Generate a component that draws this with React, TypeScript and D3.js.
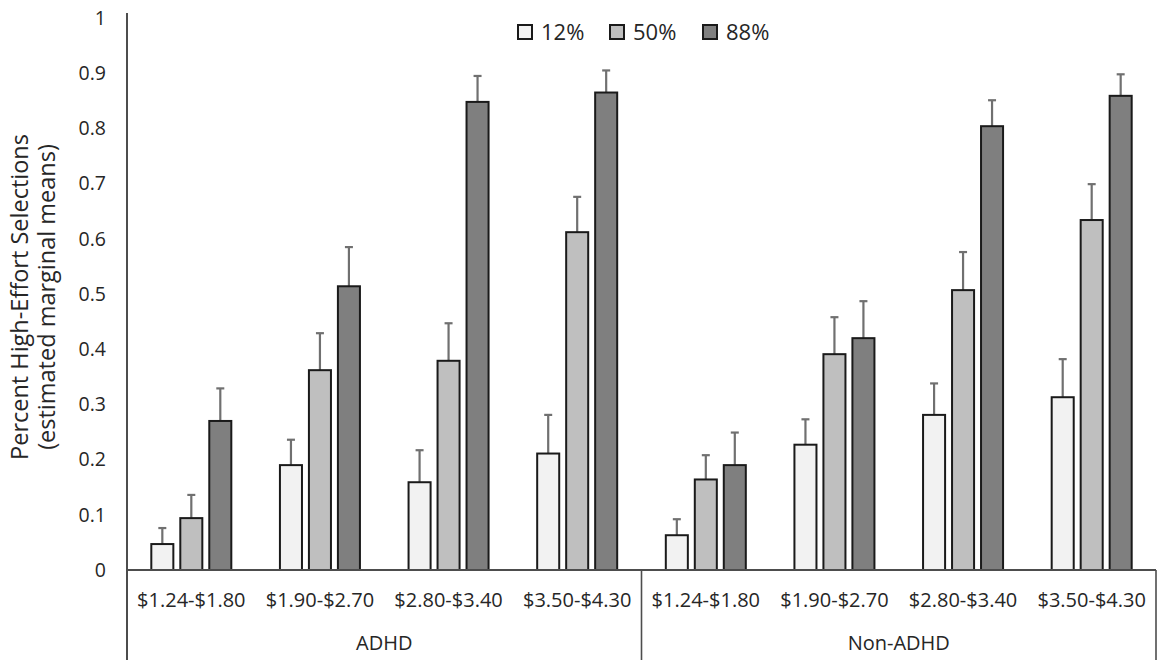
import React, { useEffect, useRef } from "react";
import * as d3 from "d3";

const groups = ["ADHD", "Non-ADHD"];
const priceRanges = ["$1.24-$1.80", "$1.90-$2.70", "$2.80-$3.40", "$3.50-$4.30"];
const seriesNames = ["12%", "50%", "88%"];
const seriesColors = ["#F2F2F2", "#BFBFBF", "#7F7F7F"];

// values per category (ADHD x4, then Non-ADHD x4)
const values12 = [0.047, 0.19, 0.159, 0.211, 0.063, 0.227, 0.281, 0.313];
const values50 = [0.094, 0.362, 0.379, 0.612, 0.164, 0.391, 0.507, 0.634];
const values88 = [0.27, 0.514, 0.848, 0.865, 0.19, 0.42, 0.804, 0.859];
// upper error-bar lengths
const err12 = [0.029, 0.046, 0.058, 0.07, 0.029, 0.046, 0.057, 0.069];
const err50 = [0.042, 0.067, 0.068, 0.064, 0.044, 0.067, 0.069, 0.065];
const err88 = [0.059, 0.071, 0.047, 0.04, 0.059, 0.067, 0.047, 0.039];

const yTicks = [0, 0.1, 0.2, 0.3, 0.4, 0.5, 0.6, 0.7, 0.8, 0.9, 1];

const W = 1162;
const H = 660;
const FONT = "'Open Sans', sans-serif";
const TEXT = "#262626";

export default function App() {
  const ref = useRef<SVGSVGElement>(null);

  useEffect(() => {
    const svg = d3.select(ref.current);
    svg.selectAll("*").remove();

    const left = 127, right = 1156, top = 18, base = 570;
    const y = d3.scaleLinear().domain([0, 1]).range([base, top]);

    const cats: string[] = [];
    groups.forEach((g) => priceRanges.forEach((p) => cats.push(g + "|" + p)));

    const x0 = d3.scaleBand<string>().domain(cats).range([left, right]).paddingInner(0.378).paddingOuter(0.189);
    const x1 = d3.scaleBand<string>().domain(seriesNames).range([0, x0.bandwidth()]).paddingInner(0.24).paddingOuter(0);

    const allVals = [values12, values50, values88];
    const allErr = [err12, err50, err88];

    // bars
    const g = svg.append("g");
    cats.forEach((c, ci) => {
      seriesNames.forEach((s, si) => {
        const v = allVals[si][ci];
        const e = allErr[si][ci];
        const bx = (x0(c) as number) + (x1(s) as number);
        const bw = x1.bandwidth();
        const cx = bx + bw / 2;
        g.append("line").attr("x1", cx).attr("x2", cx).attr("y1", y(v)).attr("y2", y(v + e))
          .attr("stroke", "#707070").attr("stroke-width", 2.2);
        g.append("line").attr("x1", cx - 4).attr("x2", cx + 4).attr("y1", y(v + e)).attr("y2", y(v + e))
          .attr("stroke", "#707070").attr("stroke-width", 2.2);
        g.append("rect").attr("x", bx).attr("y", y(v)).attr("width", bw).attr("height", base - y(v))
          .attr("fill", seriesColors[si]).attr("stroke", "#1a1a1a").attr("stroke-width", 2);
      });
    });

    // axes lines
    svg.append("line").attr("x1", left).attr("x2", left).attr("y1", 13).attr("y2", H)
      .attr("stroke", "#4d4d4d").attr("stroke-width", 2);
    svg.append("line").attr("x1", left).attr("x2", right).attr("y1", base).attr("y2", base)
      .attr("stroke", "#4d4d4d").attr("stroke-width", 2);
    const sepX = [left, (x0(cats[4]) as number) - x0.step() * 0.189, right];
    sepX.forEach((sx) => {
      svg.append("line").attr("x1", sx).attr("x2", sx).attr("y1", base).attr("y2", H)
        .attr("stroke", "#4d4d4d").attr("stroke-width", 1.6);
    });

    // y tick labels
    svg.append("g").selectAll("text").data(yTicks).join("text")
      .attr("x", 106).attr("y", (d) => y(d)).attr("dy", "0.35em").attr("text-anchor", "end")
      .attr("font-family", FONT).attr("font-size", 19.5).attr("fill", TEXT)
      .text((d) => (d === 0 ? "0" : d === 1 ? "1" : d3.format(".1f")(d)));

    // category labels
    svg.append("g").selectAll("text").data(cats).join("text")
      .attr("x", (d) => (x0(d) as number) + x0.bandwidth() / 2).attr("y", 600).attr("dy", "0.35em")
      .attr("text-anchor", "middle").attr("font-family", FONT).attr("font-size", 20).attr("fill", TEXT)
      .text((d) => d.split("|")[1]);

    // group labels
    groups.forEach((gName, gi) => {
      const xs = sepX[gi], xe = sepX[gi + 1];
      svg.append("text").attr("x", (xs + xe) / 2).attr("y", 643).attr("dy", "0.35em")
        .attr("text-anchor", "middle").attr("font-family", FONT).attr("font-size", 20).attr("fill", TEXT)
        .text(gName);
    });

    // y title
    const yt = svg.append("text").attr("transform", "translate(0,297) rotate(-90)")
      .attr("text-anchor", "middle").attr("font-family", FONT).attr("font-size", 23.5).attr("fill", TEXT);
    yt.append("tspan").attr("x", 0).attr("y", 28).text("Percent High-Effort Selections");
    yt.append("tspan").attr("x", 0).attr("y", 55).text("(estimated marginal means)");

    // legend
    const legX = [518, 610, 703];
    seriesNames.forEach((s, si) => {
      svg.append("rect").attr("x", legX[si]).attr("y", 25).attr("width", 14).attr("height", 14)
        .attr("fill", seriesColors[si]).attr("stroke", "#1a1a1a").attr("stroke-width", 2);
      svg.append("text").attr("x", legX[si] + 23).attr("y", 32).attr("dy", "0.36em")
        .attr("font-family", FONT).attr("font-size", 22).attr("fill", TEXT).text(s);
    });
  }, []);

  return (
    <div style={{ position: "absolute", left: 0, top: 0 }}>
      <svg ref={ref} width={W} height={H} style={{ display: "block", background: "#fff" }} />
    </div>
  );
}
